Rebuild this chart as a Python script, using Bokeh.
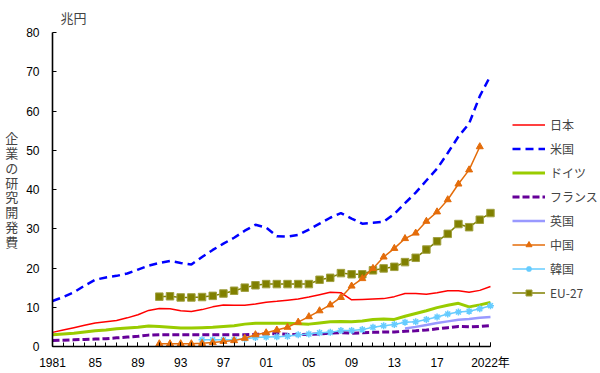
from bokeh.plotting import figure
from bokeh.models import FixedTicker, Legend, LegendItem, Range1d
from bokeh.embed import file_html
from bokeh.resources import INLINE

years_all = list(range(1981, 2023))
years_china = list(range(1991, 2022))
years_korea = list(range(1995, 2023))
years_eu = list(range(1991, 2023))
years_uk = list(range(2014, 2023))

japan = [3.6, 4.2, 4.8, 5.4, 6.0, 6.3, 6.6, 7.3, 8.1, 9.2,
         9.7, 9.6, 9.1, 8.9, 9.4, 10.1, 10.6, 10.5, 10.5, 10.8,
         11.3, 11.5, 11.8, 12.1, 12.6, 13.2, 13.8, 13.7, 11.9, 12.0,
         12.1, 12.2, 12.7, 13.5, 13.5, 13.3, 13.7, 14.2, 14.2, 13.8, 14.3, 15.3]
usa = [11.6, 12.6, 13.8, 15.5, 17.0, 17.6, 18.0, 18.6, 19.6, 20.6,
       21.3, 21.8, 21.3, 20.9, 22.8, 24.6, 26.2, 27.7, 29.5, 31.0,
       30.3, 28.1, 28.0, 28.4, 29.8, 31.3, 32.8, 34.0, 32.6, 31.3,
       31.5, 31.8, 33.8, 36.5, 39.2, 42.3, 45.3, 49.3, 53.5, 56.8, 63.8, 69.0]
germany = [3.0, 3.2, 3.4, 3.7, 4.0, 4.2, 4.5, 4.7, 4.9, 5.2,
           5.1, 4.9, 4.7, 4.7, 4.8, 4.9, 5.1, 5.3, 5.7, 5.9,
           5.9, 5.9, 5.9, 5.8, 5.7, 6.0, 6.3, 6.4, 6.3, 6.5,
           6.9, 7.0, 6.9, 7.7, 8.4, 9.1, 9.9, 10.5, 11.0, 10.1, 10.6, 11.2]
france = [1.5, 1.6, 1.7, 1.8, 1.9, 2.0, 2.2, 2.4, 2.6, 2.9,
          3.0, 3.0, 3.0, 3.0, 3.0, 3.0, 3.0, 3.0, 3.0, 3.1,
          3.2, 3.3, 3.1, 3.0, 3.1, 3.2, 3.4, 3.5, 3.4, 3.5,
          3.6, 3.7, 3.7, 3.9, 4.0, 4.2, 4.5, 4.8, 5.1, 5.0, 5.1, 5.3]
uk = [4.6, 5.0, 5.5, 6.0, 6.4, 6.8, 7.0, 7.3, 7.5]
china = [0.7, 0.7, 0.7, 0.7, 0.8, 1.0, 1.3, 1.5, 2.1, 3.0,
         3.5, 4.2, 4.9, 6.2, 7.6, 9.1, 10.6, 12.5, 15.4, 17.3,
         19.9, 22.8, 25.0, 27.5, 28.9, 31.9, 34.3, 37.4, 41.4, 45.0, 50.9]
korea = [1.7, 1.7, 1.7, 1.7, 2.0, 2.3,
         2.4, 2.5, 2.6, 3.0, 3.2, 3.5, 3.6, 4.1, 4.1, 4.3,
         4.9, 5.3, 5.6, 6.2, 6.3, 6.9, 7.5, 8.3, 8.8, 9.0, 9.6, 10.4]
eu27 = [12.7, 12.8, 12.5, 12.5, 12.6, 12.9, 13.5, 14.2, 15.0, 15.6,
        15.9, 15.9, 15.9, 15.9, 15.9, 17.0, 17.5, 18.7, 18.4, 18.4,
        19.4, 19.9, 20.3, 21.5, 22.6, 24.7, 26.8, 28.7, 31.2, 30.4, 32.3, 34.0]

x_label_ticks = [1981, 1985, 1989, 1993, 1997, 2001, 2005, 2009, 2013, 2017, 2022]
x_label_texts = ["1981", "85", "89", "93", "97", "01", "05", "09", "13", "17", "2022年"]
y_ticks = [0, 10, 20, 30, 40, 50, 60, 70, 80]
names = ["日本", "米国", "ドイツ", "フランス", "英国", "中国", "韓国", "EU-27"]
unit_text = "兆円"
y_title = "企業の研究開発費"

JP = "'Noto Sans CJK JP', sans-serif"
NUM = "'Liberation Sans', 'Noto Sans CJK JP', sans-serif"

# frame extends to the right edge so the legend fits inside it; axis is bounded
p = figure(width=600, height=373, output_backend="svg", toolbar_location=None,
           x_range=Range1d(1981, 2032.3), y_range=Range1d(0, 80),
           min_border_left=52, min_border_right=0, min_border_top=30,
           min_border_bottom=27)
p.xgrid.visible = False
p.ygrid.visible = False
p.outline_line_color = None

p.title.text = unit_text
p.title.align = "left"
p.title.offset = 8
p.title.standoff = 11
p.title.text_font = JP
p.title.text_font_size = "13px"
p.title.text_font_style = "normal"

p.xaxis.ticker = FixedTicker(ticks=x_label_ticks, minor_ticks=years_all)
p.xaxis.major_label_overrides = {t: s for t, s in zip(x_label_ticks, x_label_texts)}
p.xaxis.bounds = (1981, 2022)
p.yaxis.ticker = FixedTicker(ticks=y_ticks, minor_ticks=[])
p.yaxis.bounds = (0, 80)
for ax in (p.xaxis[0], p.yaxis[0]):
    ax.axis_line_color = "black"
    ax.axis_line_width = 1.6
    ax.major_tick_in = 4
    ax.major_tick_out = 0
    ax.minor_tick_in = 4
    ax.minor_tick_out = 0
    ax.major_tick_line_color = "black"
    ax.minor_tick_line_color = "black"
    ax.major_label_text_font = NUM
    ax.major_label_text_font_size = "12px"
    ax.major_label_text_color = "black"
p.yaxis.minor_tick_line_color = None
p.yaxis.major_label_standoff = 13
p.xaxis.major_label_standoff = 9

p.yaxis.axis_label = "\n".join(y_title)
p.yaxis.axis_label_orientation = "horizontal"
p.yaxis.axis_label_text_font = JP
p.yaxis.axis_label_text_font_size = "13px"
p.yaxis.axis_label_text_font_style = "normal"
p.yaxis.axis_label_text_line_height = 0.78
p.yaxis.axis_label_standoff = 5

r_jp = p.line(years_all, japan, line_color="#FF0000", line_width=1.5)
r_us = p.line(years_all, usa, line_color="#0000FF", line_width=2.5, line_dash="8 5")
r_de = p.line(years_all, germany, line_color="#99CC00", line_width=3)
r_fr = p.line(years_all, france, line_color="#660099", line_width=3, line_dash="7 3")
r_uk = p.line(years_uk, uk, line_color="#9999FF", line_width=2.5)
r_eu = p.line(years_eu, eu27, line_color="#808000", line_width=1.5)
r_eu_m = p.scatter(years_eu, eu27, marker="square", size=7.5, fill_color="#808000",
                   line_color="#A0A040", line_width=1)
r_kr = p.line(years_korea, korea, line_color="#66CCFF", line_width=1.5)
r_kr_m = p.scatter(years_korea, korea, marker="asterisk", size=7, line_color="#66CCFF",
                   line_width=1.5)
r_cn = p.line(years_china, china, line_color="#E46C0A", line_width=1.5)
r_cn_m = p.scatter(years_china, china, marker="triangle", size=7, fill_color="#E46C0A",
                   line_color="#E46C0A")

items = [
    LegendItem(label=names[0], renderers=[r_jp]),
    LegendItem(label=names[1], renderers=[r_us]),
    LegendItem(label=names[2], renderers=[r_de]),
    LegendItem(label=names[3], renderers=[r_fr]),
    LegendItem(label=names[4], renderers=[r_uk]),
    LegendItem(label=names[5], renderers=[r_cn, r_cn_m]),
    LegendItem(label=names[6], renderers=[r_kr, r_kr_m]),
    LegendItem(label=names[7], renderers=[r_eu, r_eu_m]),
]
legend = Legend(items=items, location=(460, 45), padding=0, margin=0, spacing=7,
                glyph_width=33, glyph_height=15, label_height=15, label_standoff=5,
                label_text_font=JP, label_text_font_size="12px",
                background_fill_alpha=0, border_line_color=None)
p.add_layout(legend)

open("out.html", "w").write(file_html(p, INLINE))
